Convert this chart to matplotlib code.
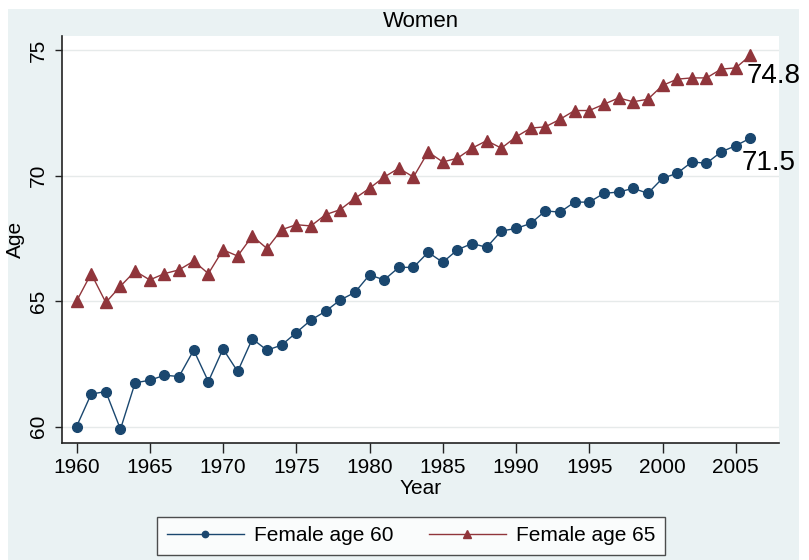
import numpy as np
import matplotlib.pyplot as plt
from matplotlib.patches import Rectangle

plt.rcParams['font.family'] = ['Liberation Sans', 'DejaVu Sans']

years = list(range(1960, 2007))

female60 = [60.0, 61.3, 61.4, 59.9, 61.75, 61.85, 62.05, 62.0, 63.05, 61.8,
            63.1, 62.2, 63.5, 63.05, 63.25, 63.75, 64.25, 64.6, 65.05, 65.35,
            66.05, 65.85, 66.35, 66.35, 66.95, 66.55, 67.05, 67.3, 67.15, 67.8,
            67.9, 68.1, 68.6, 68.55, 68.95, 68.95, 69.3, 69.35, 69.5, 69.3,
            69.9, 70.1, 70.55, 70.5, 70.95, 71.2, 71.5]

female65 = [65.0, 66.1, 64.95, 65.6, 66.2, 65.85, 66.1, 66.25, 66.6, 66.1,
            67.05, 66.8, 67.6, 67.1, 67.85, 68.05, 68.0, 68.45, 68.65, 69.1,
            69.5, 69.95, 70.3, 69.95, 70.95, 70.55, 70.7, 71.1, 71.4, 71.1,
            71.55, 71.9, 71.95, 72.25, 72.6, 72.6, 72.85, 73.1, 72.95, 73.05,
            73.6, 73.85, 73.9, 73.9, 74.25, 74.3, 74.8]

xticks = list(range(1960, 2006, 5))
yticks = [60, 65, 70, 75]

navy = '#1a476f'
maroon = '#90353b'
bg = '#eaf2f3'

W, H = 809, 560
fig = plt.figure(figsize=(W / 100, H / 100), dpi=100, facecolor='white')
# light outer region like the Stata graph region
fig.patches.append(Rectangle((8 / W, 0), 791 / W, 1 - 9 / H, transform=fig.transFigure,
                             facecolor=bg, edgecolor='none', zorder=-10))

ax = fig.add_axes([62 / W, 1 - 443 / H, (779 - 62) / W, (443 - 36) / H])
ax.set_facecolor('white')

ax.plot(years, female60, color=navy, marker='o', markersize=7, linewidth=1,
        label='Female age 60', zorder=3)
ax.plot(years, female65, color=maroon, marker='^', markersize=8, linewidth=1,
        label='Female age 65', zorder=3)

ax.annotate(f'{female65[-1]:.1f}', (years[-1], female65[-1]), xytext=(-4, -8),
            textcoords='offset pixels', ha='left', va='top', fontsize=20)
ax.annotate(f'{female60[-1]:.1f}', (years[-1], female60[-1]), xytext=(-9, -12),
            textcoords='offset pixels', ha='left', va='top', fontsize=20)

ax.set_xlim(1959.01, 2007.95)
ax.set_ylim(59.35, 75.57)
ax.set_xticks(xticks)
ax.set_yticks(yticks)
ax.grid(axis='y', color='#e6eaea', linewidth=1)
ax.set_axisbelow(True)

for s in ['top', 'right']:
    ax.spines[s].set_visible(False)
for s in ['left', 'bottom']:
    ax.spines[s].set_color('#222222')
    ax.spines[s].set_linewidth(1.2)

ax.tick_params(axis='x', length=7, width=1, color='#222222', labelsize=15, pad=4)
ax.tick_params(axis='y', length=5, width=1, color='#222222', labelsize=15, pad=5)
plt.setp(ax.get_yticklabels(), rotation=90, va='center')

ax.set_xlabel('Year', fontsize=15, labelpad=1)
ax.set_ylabel('Age', fontsize=15, labelpad=3)
ax.set_title('Women', fontsize=16, pad=6.5)

leg = ax.legend(loc='upper center', bbox_to_anchor=(0.487, -0.182), ncol=2,
                fontsize=15, frameon=True, fancybox=False, edgecolor='#222222',
                handlelength=3.7, handletextpad=0.5, columnspacing=1.7,
                borderpad=0.45, borderaxespad=0, markerscale=0.65)
leg.get_frame().set_linewidth(1)

fig.savefig('out.png', dpi=100, facecolor=fig.get_facecolor())
